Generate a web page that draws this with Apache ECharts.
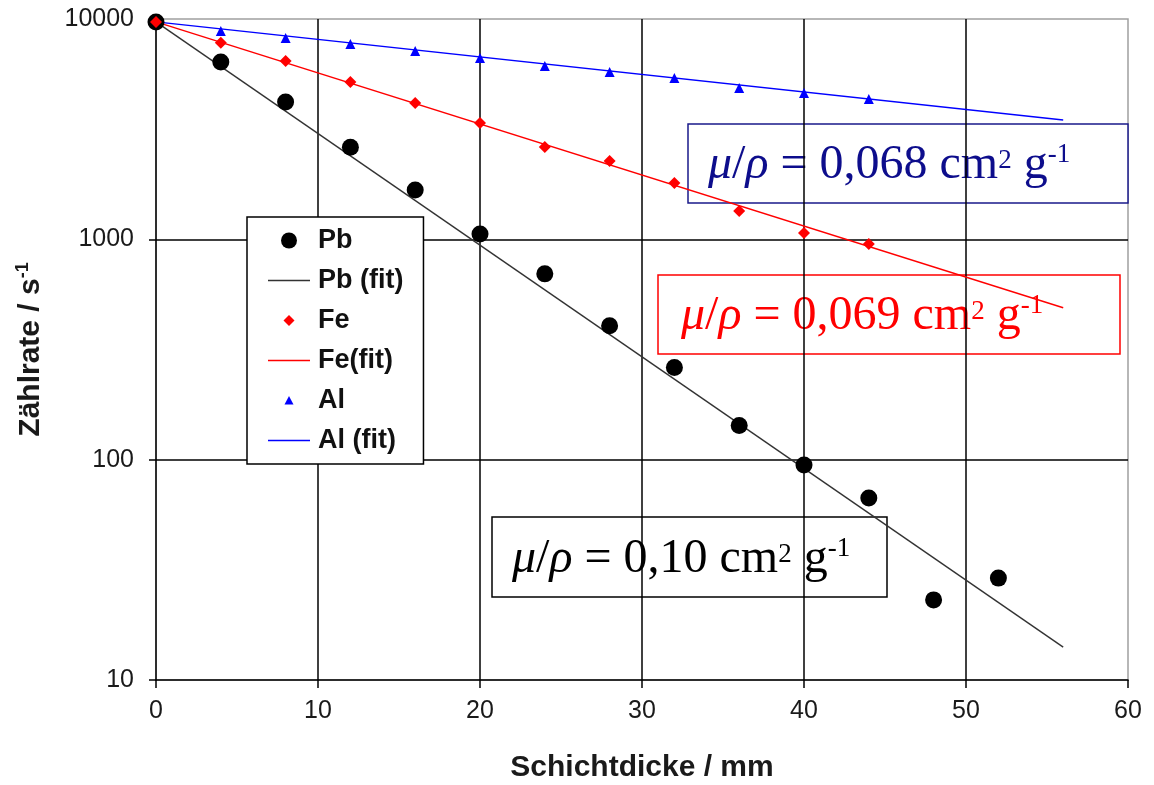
<!DOCTYPE html>
<html><head><meta charset="utf-8">
<script src="https://cdn.jsdelivr.net/npm/echarts@6/dist/echarts.min.js"></script>
<style>html,body{margin:0;padding:0;background:#fff}#c{width:1154px;height:785px}</style>
</head><body><div id="c"></div>
<script>
// ---- data ----
const xTickLabels = ['0','10','20','30','40','50','60'];
const yTickLabels = ['10','100','1000','10000'];
const pbThickness = [0,4,8,12,16,20,24,28,32,36,40,44,48,52];
const pbRate      = [9700,6380,4200,2620,1675,1057,697,405,262,143,94.6,67,23.1,29];
const feThickness = [0,4,8,12,16,20,24,28,32,36,40,44];
const feRate      = [9700,7800,6450,5180,4160,3374,2624,2267,1802,1345,1069,953];
const alThickness = [0,4,8,12,16,20,24,28,32,36,40,44];
const alRate      = [9700,8820,8200,7700,7160,6657,6117,5748,5396,4864,4614,4338];
const fitThickness = [0,56];
const pbFitRate = [9700,14.1];
const feFitRate = [9700,489];
const alFitRate = [9700,3480];
const seriesNames = ['Pb','Pb (fit)','Fe','Fe(fit)','Al','Al (fit)'];
const muRho = ['0,068','0,069','0,10'];

const pairs = (xs, ys) => xs.map((x, i) => [x, ys[i]]);
const SANS = 'Arial, "Liberation Sans", Helvetica, sans-serif';
const SERIF = '"Times New Roman", "Liberation Serif", serif';

function formula(value, color) {
  const base = {fontFamily: SERIF, fontSize: 48, fill: color, lineHeight: 56};
  return {
    text: '{i|μ}{n|/}{i|ρ}{n| = ' + value + ' cm}{s2|2}{n| g}{s1|-1}',
    rich: {
      i: Object.assign({}, base, {fontStyle: 'italic'}),
      n: base,
      s2: {fontFamily: SERIF, fontSize: 27, fill: color, lineHeight: 30, verticalAlign: 'top', padding: [10, 0, 0, 0]},
      s1: {fontFamily: SERIF, fontSize: 27, fill: color, lineHeight: 30, verticalAlign: 'top', padding: [4, 0, 0, 0]}
    }
  };
}
function box(left, top, w, h, textLeft, textMid, value, color, border) {
  const f = formula(value, color);
  return {
    type: 'group', x: left, y: top, z: 100,
    children: [
      {type: 'rect', shape: {x: 0, y: 0, width: w, height: h},
       style: {fill: '#fff', stroke: border, lineWidth: 1.5}},
      {type: 'text', x: textLeft, y: textMid,
       style: {text: f.text, rich: f.rich, align: 'left', verticalAlign: 'middle', fill: color}}
    ]
  };
}

const chart = echarts.init(document.getElementById('c'), null, {renderer: 'canvas'});
chart.setOption({
  backgroundColor: '#fff',
  animation: false,
  grid: {left: 156, right: 26, top: 19, bottom: 105, show: true, borderColor: '#a0a0a0', borderWidth: 1.5,
         backgroundColor: 'transparent', containLabel: false, outerBoundsMode: 'none'},
  xAxis: {
    type: 'value', min: 0, max: 60, interval: 10,
    name: 'Schichtdicke / mm', nameLocation: 'middle', nameGap: 73,
    nameTextStyle: {fontFamily: SANS, fontSize: 30, fontWeight: 'bold', color: '#1a1a1a'},
    axisLine: {show: true, onZero: false, lineStyle: {color: '#000', width: 1.5}},
    axisTick: {show: true, inside: false, length: 8, lineStyle: {color: '#000', width: 1.5}},
    axisLabel: {fontFamily: SANS, fontSize: 25, color: '#1a1a1a', margin: 19,
                formatter: v => xTickLabels[Math.round(v / 10)]},
    splitLine: {show: true, showMinLine: false, showMaxLine: false, lineStyle: {color: '#000', width: 1.5}}
  },
  yAxis: {
    type: 'log', logBase: 10, min: 10, max: 10000,
    name: '{b|Zählrate / s}{sup|-1}', nameLocation: 'middle', nameGap: 108,
    nameTextStyle: {color: '#1a1a1a', rich: {
      b: {fontFamily: SANS, fontSize: 30, fontWeight: 'bold', color: '#1a1a1a', lineHeight: 34},
      sup: {fontFamily: SANS, fontSize: 18, fontWeight: 'bold', color: '#1a1a1a', lineHeight: 20, verticalAlign: 'top'}
    }},
    axisLine: {show: true, lineStyle: {color: '#000', width: 1.5}},
    axisTick: {show: true, inside: false, length: 7, lineStyle: {color: '#000', width: 1.5}},
    minorTick: {show: false},
    axisLabel: {fontFamily: SANS, fontSize: 25, color: '#1a1a1a', margin: 22,
                formatter: v => yTickLabels[Math.round(Math.log10(v)) - 1]},
    splitLine: {show: true, showMinLine: false, showMaxLine: false, lineStyle: {color: '#000', width: 1.5}}
  },
  legend: {
    orient: 'vertical', left: 247, top: 217,
    backgroundColor: '#fff', borderColor: '#000', borderWidth: 1.5,
    padding: [10, 20, 10, 21], itemGap: 13, itemWidth: 42, itemHeight: 16,
    textStyle: {fontFamily: SANS, fontSize: 27, fontWeight: 'bold', color: '#111', lineHeight: 24, padding: [0, 0, 0, 3]},
    symbolKeepAspect: true, z: 90,
    data: [
      {name: seriesNames[0], icon: 'circle'},
      {name: seriesNames[1], icon: 'path://M0,0 M0,16 M0,7.25 L42,7.25 L42,8.75 L0,8.75 Z'},
      {name: seriesNames[2], icon: 'path://M0,0 M16,16 M8,2.5 L13.5,8 L8,13.5 L2.5,8 Z'},
      {name: seriesNames[3], icon: 'path://M0,0 M0,16 M0,7.25 L42,7.25 L42,8.75 L0,8.75 Z'},
      {name: seriesNames[4], icon: 'path://M0,0 M16,16 M8,3.5 L12.5,12 L3.5,12 Z'},
      {name: seriesNames[5], icon: 'path://M0,0 M0,16 M0,7.25 L42,7.25 L42,8.75 L0,8.75 Z'}
    ]
  },
  series: [
    {name: seriesNames[5], type: 'line', color: '#0000ff', symbol: 'none', data: pairs(fitThickness, alFitRate),
     lineStyle: {color: '#0000ff', width: 1.4}, z: 2},
    {name: seriesNames[4], type: 'scatter', color: '#0000ff', symbol: 'triangle', symbolSize: 10,
     data: pairs(alThickness, alRate), itemStyle: {color: '#0000ff', opacity: 1}, z: 3},
    {name: seriesNames[1], type: 'line', color: '#333333', symbol: 'none', data: pairs(fitThickness, pbFitRate),
     lineStyle: {color: '#333333', width: 1.4}, z: 2},
    {name: seriesNames[3], type: 'line', color: '#ff0000', symbol: 'none', data: pairs(fitThickness, feFitRate),
     lineStyle: {color: '#ff0000', width: 1.4}, z: 2},
    {name: seriesNames[0], type: 'scatter', color: '#000000', symbol: 'circle', symbolSize: 17,
     data: pairs(pbThickness, pbRate), itemStyle: {color: '#000000', opacity: 1}, z: 4},
    {name: seriesNames[2], type: 'scatter', color: '#ff0000', symbol: 'diamond', symbolSize: 12,
     data: pairs(feThickness, feRate), itemStyle: {color: '#ff0000', opacity: 1}, z: 5}
  ],
  graphic: [
    box(688, 124, 440, 79, 20, 41, muRho[0], '#0d0d8c', '#1a1a8a'),
    box(658, 275, 462, 79, 23, 41.5, muRho[1], '#ff0000', '#ff0000'),
    box(492, 517, 395, 80, 20, 42, muRho[2], '#000000', '#000000')
  ]
});
</script></body></html>
